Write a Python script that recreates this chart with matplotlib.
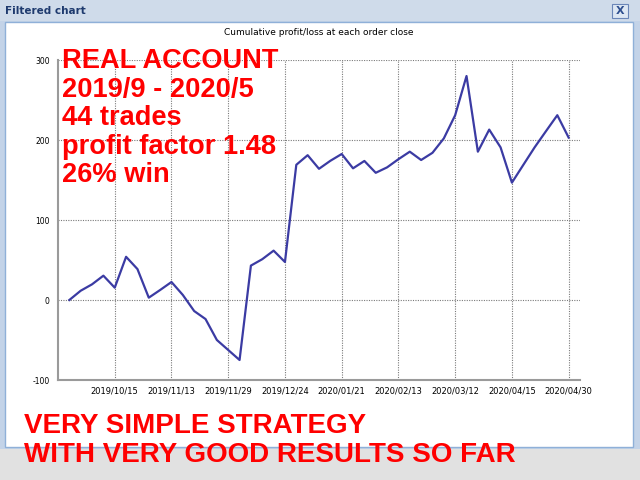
import matplotlib
matplotlib.use('Agg')
import matplotlib.pyplot as plt
from matplotlib.patches import Rectangle

plt.rcParams['axes.unicode_minus'] = False

# cumulative profit/loss after each closed order (index 0 = start)
cum_pl = [0, 11.6, 19.6, 30.4, 15.4, 54, 38.7, 2.9, 12.5, 22.5,
          6.3, -13.8, -23.8, -50, -62.5, -75, 43, 51, 61.7, 47.5,
          169, 181, 164, 174, 182.5, 164.6, 173.8, 159, 165.8, 176,
          185.4, 175, 184, 202, 231, 280, 185.4, 213, 190.8, 146.7,
          168.8, 190.8, 211, 231, 203]
tick_idx = [4, 9, 14, 19, 24, 29, 34, 39, 44]
tick_dates = ['2019/10/15', '2019/11/13', '2019/11/29', '2019/12/24', '2020/01/21',
              '2020/02/13', '2020/03/12', '2020/04/15', '2020/04/30']
y_ticks = [-100, 0, 100, 200, 300]

overlay_lines = ['REAL ACCOUNT', '2019/9 - 2020/5', '44 trades',
                 'profit factor 1.48', '26% win']
bottom_lines = ['VERY SIMPLE STRATEGY', 'WITH VERY GOOD RESULTS SO FAR']

W, H = 640, 480
fig = plt.figure(figsize=(6.4, 4.8), dpi=100)
fig.patch.set_facecolor('#e1e1e1')


def px(x, y):
    # pixel coords (top-left origin) -> figure fraction
    return x / W, 1 - y / H


def add_rect(x0, y0, x1, y1, **kw):
    fig.patches.append(Rectangle((x0 / W, 1 - y1 / H), (x1 - x0) / W, (y1 - y0) / H,
                                 transform=fig.transFigure, figure=fig, zorder=-5, **kw))


# window frame, title bar, white client area
add_rect(0, 0, 640, 449, facecolor='#c3d3e8', edgecolor='none')
add_rect(0, 0, 640, 21, facecolor='#cfdbea', edgecolor='none')
add_rect(5, 22, 633, 447, facecolor='white', edgecolor='#8fb0d8', lw=1)
add_rect(612, 4, 628, 18, facecolor='#dde7f3', edgecolor='#6a86b8', lw=0.8)
fig.text(*px(620, 11), 'X', color='#2e4f8f', fontsize=8, fontweight='bold',
         ha='center', va='center')
fig.text(*px(5, 11), 'Filtered chart', color='#1e3a6e', fontsize=7.5,
         fontweight='bold', ha='left', va='center')

left, right, top, bottom = 58, 580, 60, 380
ax = fig.add_axes([left / W, 1 - bottom / H, (right - left) / W, (bottom - top) / H])
ax.set_zorder(2)
ax.set_facecolor('white')
ax.plot(range(len(cum_pl)), cum_pl, color='#3b3ba3', lw=1.6, solid_joinstyle='round')
ax.set_xlim(-1, 45)
ax.set_ylim(-100, 300)
ax.set_xticks(tick_idx)
ax.set_xticklabels(tick_dates)
ax.set_yticks(y_ticks)
ax.grid(True, color='#7a7a7a', linestyle=(0, (1, 1.2)), lw=0.8)
for s in ['top', 'right']:
    ax.spines[s].set_visible(False)
for s in ['left', 'bottom']:
    ax.spines[s].set_color('#9a9a9a')
    ax.spines[s].set_linewidth(1.5)
ax.tick_params(axis='x', length=0, labelsize=6, pad=5, colors='black')
ax.tick_params(axis='y', length=0, labelsize=5.5, pad=6, colors='black')
ax.set_title('Cumulative profit/loss at each order close', fontsize=6.5, pad=18)
ax.set_axisbelow(True)

# red annotation text
red_font = ['Liberation Sans', 'DejaVu Sans']
for i, line in enumerate(overlay_lines):
    fig.text(*px(62, 68 + i * 28.6), line, color='#ff0000', fontsize=19.6,
             fontweight='bold', family=red_font, va='baseline', ha='left', zorder=10)
for i, line in enumerate(bottom_lines):
    fig.text(*px(24, 433 + i * 29), line, color='#ff0000', fontsize=20,
             fontweight='bold', family=red_font, va='baseline', ha='left', zorder=10)

fig.savefig('out.png', dpi=100)
